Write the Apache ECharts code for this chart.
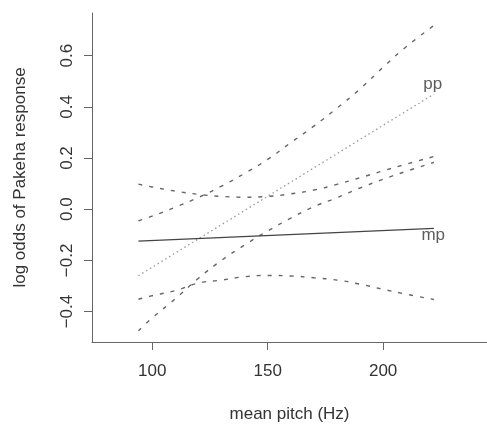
<!DOCTYPE html>
<html>
<head>
<meta charset="utf-8">
<title>log odds of Pakeha response</title>
<script src="https://cdn.jsdelivr.net/npm/echarts@6/dist/echarts.min.js"></script>
<style>
html, body { margin: 0; padding: 0; background: #fff; }
#chart { width: 487px; height: 428px; }
</style>
</head>
<body>
<div id="chart"></div>
<script>
let pitch = [94, 100, 110, 120, 130, 140, 150, 160, 170, 180, 190, 200, 210, 222]

// pp band
let ppUpper = [-0.045, -0.027, 0.008, 0.046, 0.09, 0.14, 0.195, 0.26, 0.325, 0.395, 0.47, 0.555, 0.635, 0.718]
let ppLower = [-0.475, -0.425, -0.35, -0.27, -0.2, -0.14, -0.085, -0.035, 0.01, 0.045, 0.083, 0.117, 0.148, 0.183]

// mp band
let mpUpper = [0.098, 0.087, 0.071, 0.058, 0.05, 0.047, 0.05, 0.06, 0.075, 0.097, 0.123, 0.15, 0.176, 0.206]
let mpLower = [-0.352, -0.338, -0.318, -0.289, -0.277, -0.264, -0.259, -0.261, -0.268, -0.277, -0.293, -0.313, -0.332, -0.353]

// fitted lines (straight, so only the ends)
let lineEnds = [94, 222]
let ppFit = [-0.26, 0.45]
let mpFit = [-0.125, -0.075]

let xTicks = [100, 150, 200]
let yTicks = [-0.4, -0.2, 0.0, 0.2, 0.4, 0.6]

let labelNames = ['pp', 'mp']
let labelAt = [[221.5, 0.488], [221.7, -0.101]]

let font = '"Liberation Sans", Arial, Helvetica, sans-serif'
let ink = '#333'

let pairs = (xs, ys) => xs.map((x, i) => [x, ys[i]])

let band = (ys) => ({
	type: 'line',
	data: pairs(pitch, ys),
	smooth: true,
	symbol: 'none',
	silent: true,
	lineStyle: { color: '#666', width: 1.4, type: [4, 7] }
})

let chart = echarts.init(document.getElementById('chart'), null, { renderer: 'canvas' })

chart.setOption({
	backgroundColor: '#fff',
	animation: false,
	textStyle: { fontFamily: font },
	grid: { left: 92, right: 0, top: 13, bottom: 83 },
	xAxis: {
		type: 'value',
		min: 73.9,
		max: 245,
		name: 'mean pitch (Hz)',
		nameLocation: 'middle',
		nameGap: 64,
		nameTextStyle: { fontSize: 17, color: ink, fontFamily: font },
		axisLine: { show: true, onZero: false, lineStyle: { color: '#666', width: 1 } },
		axisTick: { show: true, length: 8, customValues: xTicks, lineStyle: { color: '#666' } },
		axisLabel: { customValues: xTicks, margin: 21, fontSize: 17, color: ink, fontFamily: font },
		splitLine: { show: false }
	},
	yAxis: {
		type: 'value',
		min: -0.519,
		max: 0.767,
		name: 'log odds of Pakeha response',
		nameLocation: 'middle',
		nameGap: 63,
		nameTextStyle: { fontSize: 17, color: ink, fontFamily: font },
		axisLine: { show: true, onZero: false, lineStyle: { color: '#666', width: 1 } },
		axisTick: { show: true, length: 8, customValues: yTicks, lineStyle: { color: '#666' } },
		axisLabel: {
			customValues: yTicks,
			rotate: 90,
			margin: 16,
			fontSize: 17,
			color: ink,
			fontFamily: font,
			formatter: (v) => v.toFixed(1).replace('-', '\u2212')
		},
		splitLine: { show: false }
	},
	series: [
		band(ppUpper),
		band(ppLower),
		band(mpUpper),
		band(mpLower),
		{
			type: 'line',
			data: pairs(lineEnds, ppFit),
			symbol: 'none',
			silent: true,
			lineStyle: { color: '#999', width: 1.3, type: [1.5, 3] }
		},
		{
			type: 'line',
			data: pairs(lineEnds, mpFit),
			symbol: 'none',
			silent: true,
			lineStyle: { color: '#444', width: 1.3 }
		},
		{
			type: 'scatter',
			symbolSize: 0,
			silent: true,
			data: labelAt.map((p, i) => ({ value: p, name: labelNames[i] })),
			label: {
				show: true,
				position: 'inside',
				formatter: (p) => p.name,
				fontSize: 17,
				color: ink,
				fontFamily: font
			}
		}
	]
})
</script>
</body>
</html>
